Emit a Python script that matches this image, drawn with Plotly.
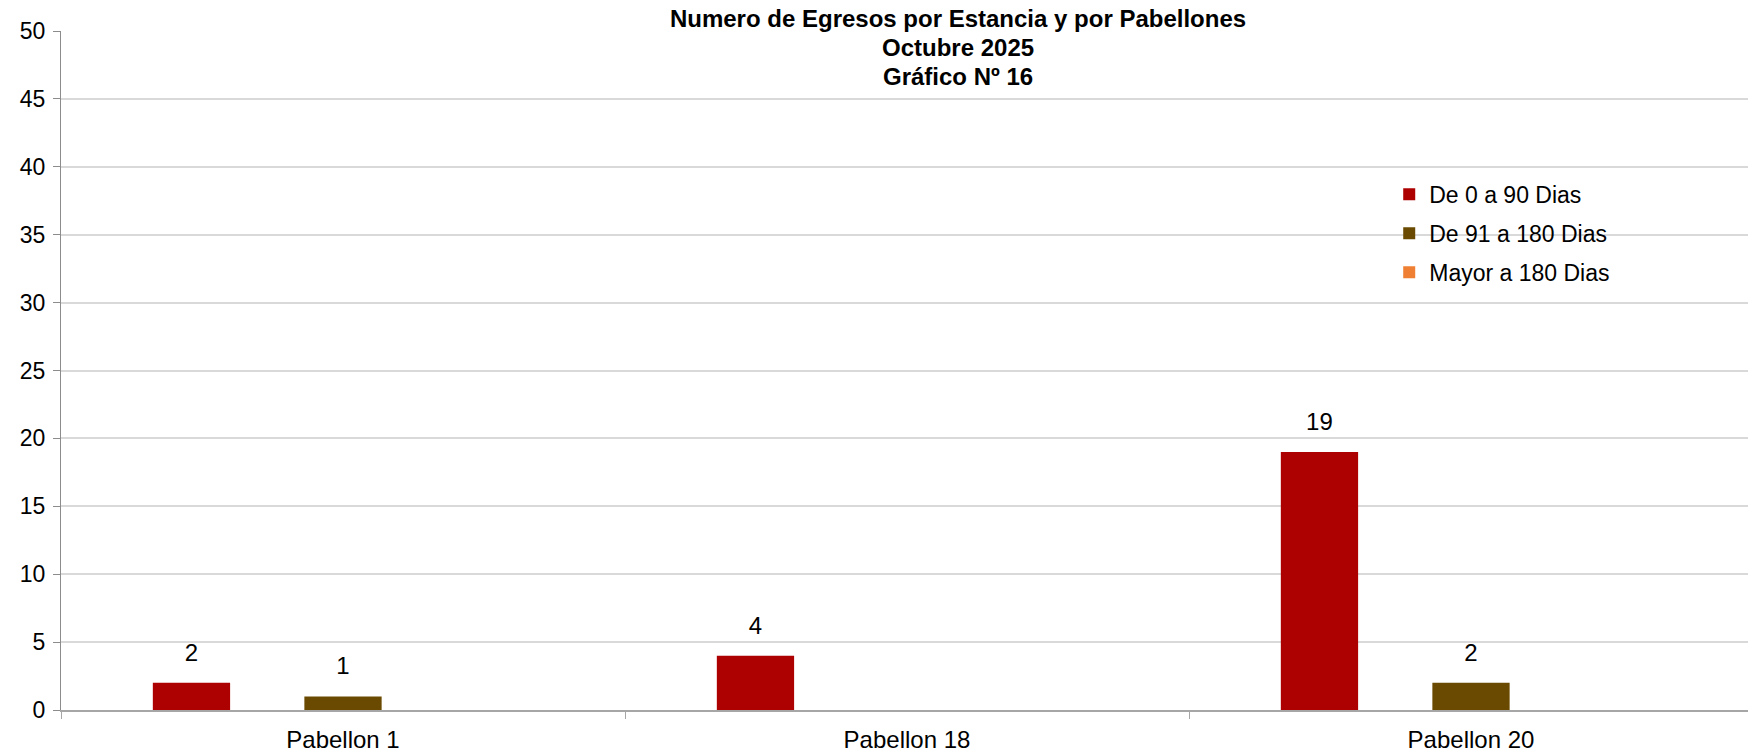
import plotly.graph_objects as go

categories = ["Pabellon 1", "Pabellon 18", "Pabellon 20"]
series_names = ["De 0 a 90 Dias", "De 91 a 180 Dias", "Mayor a 180 Dias"]
v_0_90 = [2, 4, 19]
v_91_180 = [1, None, 2]
v_180_plus = [None, None, None]
series_values = [v_0_90, v_91_180, v_180_plus]
colors = ["#ad0000", "#6a4a00", "#ef7f33"]
title_lines = ["Numero de Egresos por Estancia y por Pabellones", "Octubre 2025", "Gráfico Nº 16"]

FONT = "Liberation Sans, Arial, sans-serif"

fig = go.Figure()
for name, vals, col in zip(series_names, series_values, colors):
    fig.add_trace(go.Bar(
        x=categories, y=vals, name=name,
        marker=dict(color=col, line=dict(width=0)),
        legendgroup=name,
    ))
for name, vals in zip(series_names, series_values):
    fig.add_trace(go.Scatter(
        x=categories, y=vals, mode="markers+text",
        text=[("" if v is None else str(v)) for v in vals],
        textposition="top center",
        textfont=dict(size=24, color="#000000", family=FONT),
        marker=dict(size=24, opacity=0),
        showlegend=False, hoverinfo="skip",
    ))

TITLE_X = 0.5435
fig.update_layout(
    width=1748, height=746,
    paper_bgcolor="white", plot_bgcolor="white",
    barmode="group", bargap=0.194, bargroupgap=0.49,
    scattermode="group", scattergap=0.194,
    margin=dict(l=53, r=3, t=23, b=44),
    font=dict(family=FONT, size=23, color="#000000"),
    title=dict(
        text="<b>" + title_lines[0] + "</b>",
        x=TITLE_X, xanchor="center", y=0.9853, yanchor="middle",
        font=dict(size=24, family=FONT, color="#000000"),
    ),
    legend=dict(
        x=0.785, y=0.791, xanchor="left", yanchor="top",
        bgcolor="rgba(0,0,0,0)", traceorder="grouped", tracegroupgap=6,
        font=dict(size=23, family=FONT),
    ),
    showlegend=True,
)
TITLE_X_PLOT = (0.5435 * 1748 - 53) / (1748 - 53 - 3)
for line, yy in zip(title_lines[1:], [0.975, 0.9337]):
    fig.add_annotation(
        text="<b>" + line + "</b>", xref="paper", yref="paper",
        x=TITLE_X_PLOT, y=yy, xanchor="center", yanchor="middle",
        showarrow=False, font=dict(size=24, family=FONT, color="#000000"),
    )
fig.update_yaxes(
    range=[0, 50], dtick=5, tick0=0,
    showgrid=True, gridcolor="#d9d9d9", gridwidth=1.5,
    showline=True, linecolor="#8c8c8c", linewidth=1,
    ticks="outside", ticklen=7, tickcolor="#8c8c8c",
    tickfont=dict(size=23, family=FONT), zeroline=False,
    ticklabelstandoff=3, automargin=False,
)
fig.update_xaxes(
    showline=True, linecolor="#a6a6a6", linewidth=2,
    ticks="outside", ticklen=7, tickcolor="#a6a6a6", tickson="boundaries",
    tickfont=dict(size=24, family=FONT), showgrid=False,
    ticklabelstandoff=7, automargin=False,
)

fig.write_html("out.html")
